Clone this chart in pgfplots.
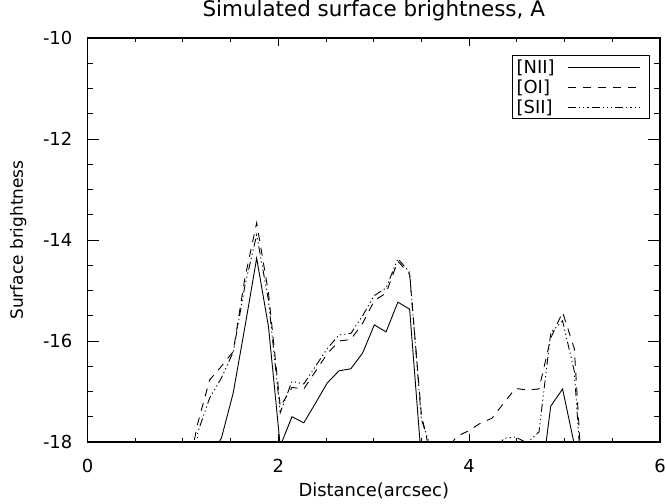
\documentclass[border=0pt]{standalone}
\usepackage{pgfplots}
\pgfplotsset{compat=1.18}
\usepackage{fontspec}
\setmainfont{DejaVu Sans}
\begin{document}
\begin{tikzpicture}
\useasboundingbox (-87.5bp,-62bp) rectangle (578.5bp,442bp);
\begin{axis}[
  at={(0,0)}, anchor=south west,
  scale only axis, width=572.5bp, height=404bp,
  xmin=0, xmax=6, ymin=-18, ymax=-10,
  xtick={0,2,4,6}, ytick={-18,-16,-14,-12,-10},
  minor x tick num=3, minor y tick num=3,
  tick align=inside,
  xtick style={/pgfplots/major tick length=8bp, /pgfplots/minor tick length=4bp},
  ytick style={/pgfplots/major tick length=11.5bp, /pgfplots/minor tick length=5.7bp},
  every tick/.style={black, line width=1bp},
  axis line style={line width=1.3bp},
  /pgf/number format/assume math mode=true,
  ticklabel style={font=\fontsize{18}{20}\selectfont},
  xticklabel style={anchor=base, yshift=-30bp},
  yticklabel style={anchor=east, inner sep=0pt, xshift=-15bp},
  title={Simulated surface brightness, A},
  title style={at={(0.5,1.0396)}, anchor=base, font=\fontsize{21.5}{23}\selectfont},
  xlabel={Distance(arcsec)},
  xlabel style={at={(0.5,-0.1337)}, anchor=base, font=\fontsize{18}{20}\selectfont},
  ylabel={Surface brightness},
  ylabel style={at={(-0.1127,0.5)}, anchor=base, font=\fontsize{17}{19}\selectfont},
  legend plot pos=right,
  legend cell align=left,
  legend image code/.code={\draw[#1] (0bp,0bp) -- (72bp,0bp); \path (79bp,0bp);},
  legend style={at={(1,1)}, anchor=north east, xshift=-10bp, yshift=-17bp,
    draw=black, line width=1bp, inner sep=2bp, row sep=1bp, column sep=11bp,
    font=\fontsize{18}{20}\selectfont},
]
\addplot[black, line width=0.9bp] coordinates {
(1.157,-20) (1.280,-18.3) (1.404,-17.92) (1.527,-17.03) (1.650,-15.72)
(1.773,-14.36) (1.897,-15.72) (2.020,-18.08) (2.143,-17.50) (2.267,-17.62)
(2.390,-17.23) (2.513,-16.83) (2.636,-16.59) (2.760,-16.55) (2.883,-16.24)
(3.006,-15.68) (3.129,-15.82) (3.253,-15.23) (3.376,-15.37) (3.499,-18.34)
(3.622,-20) (4.609,-20) (4.732,-19.1) (4.855,-17.29) (4.979,-16.95)
(5.102,-18.05) (5.225,-20)
};
\addlegendentry{[NII]}
\addplot[black, line width=0.9bp, dash pattern=on 8bp off 7bp] coordinates {
(0.911,-20) (1.034,-18.75) (1.157,-17.62) (1.280,-16.77) (1.404,-16.5)
(1.527,-16.21) (1.650,-14.75) (1.773,-13.66) (1.897,-15.05) (2.020,-17.3)
(2.143,-16.92) (2.267,-16.95) (2.390,-16.6) (2.513,-16.25) (2.636,-16.0)
(2.760,-15.97) (2.883,-15.65) (3.006,-15.2) (3.129,-15.05) (3.253,-14.42)
(3.376,-14.68) (3.499,-17.45) (3.622,-18.5) (3.746,-18.2) (3.869,-17.89)
(3.992,-17.78) (4.116,-17.63) (4.239,-17.53) (4.362,-17.23) (4.485,-16.94)
(4.609,-16.97) (4.732,-16.95) (4.855,-15.94) (4.979,-15.43) (5.102,-16.15)
(5.225,-20)
};
\addlegendentry{[OI]}
\addplot[black, line width=0.9bp, dash pattern=on 8bp off 3bp on 1.2bp off 3bp on 1.2bp off 3bp on 1.2bp off 3bp] coordinates {
(1.034,-20) (1.157,-17.8) (1.280,-17.13) (1.404,-16.73) (1.527,-16.22)
(1.650,-14.9) (1.773,-13.9) (1.897,-15.2) (2.020,-17.42) (2.143,-16.8)
(2.267,-16.85) (2.390,-16.5) (2.513,-16.15) (2.636,-15.88) (2.760,-15.85)
(2.883,-15.5) (3.006,-15.1) (3.129,-14.95) (3.253,-14.37) (3.376,-14.64)
(3.499,-17.55) (3.622,-18.25) (3.746,-20) (4.116,-20) (4.239,-18.3)
(4.362,-17.93) (4.485,-17.9) (4.609,-18.02) (4.732,-17.8) (4.855,-15.84)
(4.979,-15.6) (5.102,-16.6) (5.225,-20)
};
\addlegendentry{[SII]}
\end{axis}
\end{tikzpicture}
\end{document}
